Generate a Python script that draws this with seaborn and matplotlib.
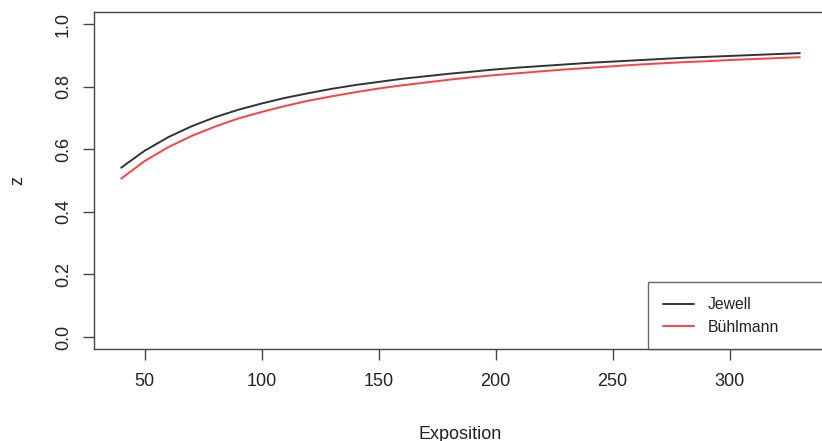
import matplotlib
matplotlib.use("Agg")
import matplotlib.pyplot as plt
import seaborn as sns
import pandas as pd

# values
exposition = [40, 50, 60, 70, 80, 90, 100, 110, 120, 130, 140, 150, 160, 170, 180,
              190, 200, 210, 220, 230, 240, 250, 260, 270, 280, 290, 300, 310, 320, 330]
z_jewell = [0.541, 0.595, 0.638, 0.673, 0.702, 0.726, 0.746, 0.764, 0.779, 0.793,
            0.805, 0.815, 0.825, 0.833, 0.841, 0.848, 0.855, 0.861, 0.866, 0.871,
            0.876, 0.880, 0.884, 0.888, 0.892, 0.895, 0.898, 0.901, 0.904, 0.907]
z_buhlmann = [0.506, 0.562, 0.606, 0.642, 0.672, 0.698, 0.719, 0.738, 0.755, 0.769,
              0.782, 0.794, 0.804, 0.813, 0.822, 0.830, 0.837, 0.843, 0.849, 0.855,
              0.860, 0.865, 0.870, 0.874, 0.878, 0.881, 0.885, 0.888, 0.891, 0.894]
methods = ["Jewell", "Bühlmann"]
colors = ["#333333", "#ff4040"]

df = pd.DataFrame({
    "Exposition": exposition * 2,
    "z": z_jewell + z_buhlmann,
    "method": [methods[0]] * len(exposition) + [methods[1]] * len(exposition),
})

sns.set_style("white")
plt.rcParams["font.family"] = ["Liberation Sans", "DejaVu Sans"]
plt.rcParams["text.color"] = "#222222"
plt.rcParams["axes.labelcolor"] = "#222222"

fig = plt.figure(figsize=(8.22, 4.41), dpi=100)
ax = fig.add_axes([0.1144, 0.2075, 0.8917, 0.7664])

sns.lineplot(data=df, x="Exposition", y="z", hue="method", hue_order=methods,
             palette=colors, linewidth=1.4, ax=ax)

ax.set_xlim(28.4, 341.6)
ax.set_ylim(-0.04, 1.04)
ax.set_xticks([50, 100, 150, 200, 250, 300])
ax.set_yticks([0.0, 0.2, 0.4, 0.6, 0.8, 1.0])
ax.set_yticklabels(["0.0", "0.2", "0.4", "0.6", "0.8", "1.0"], rotation=90, va="center")
ax.tick_params(axis="both", bottom=True, left=True, direction="out", length=7.9,
               width=1, color="#444444", labelsize=13, labelcolor="#222222")
ax.tick_params(axis="x", pad=9)
ax.tick_params(axis="y", pad=8)
for s in ax.spines.values():
    s.set_color("#444444")
    s.set_linewidth(1.0)

ax.set_xlabel("Exposition", fontsize=13)
ax.set_ylabel("z", fontsize=13)
ax.xaxis.set_label_coords(0.5, -0.225)
ax.yaxis.set_label_coords(-0.092, 0.5)

leg = ax.legend(loc="lower left", bbox_to_anchor=(0.7558, 0.0, 0.2442, 0.2),
                mode="expand", borderaxespad=0, fontsize=11.3, frameon=True,
                fancybox=False, handlelength=2.0, handletextpad=0.85,
                borderpad=0.95, labelspacing=0.47)
leg.get_frame().set_edgecolor("#444444")
leg.get_frame().set_linewidth(1.0)
leg.set_title(None)

fig.savefig("out.png", dpi=100)
